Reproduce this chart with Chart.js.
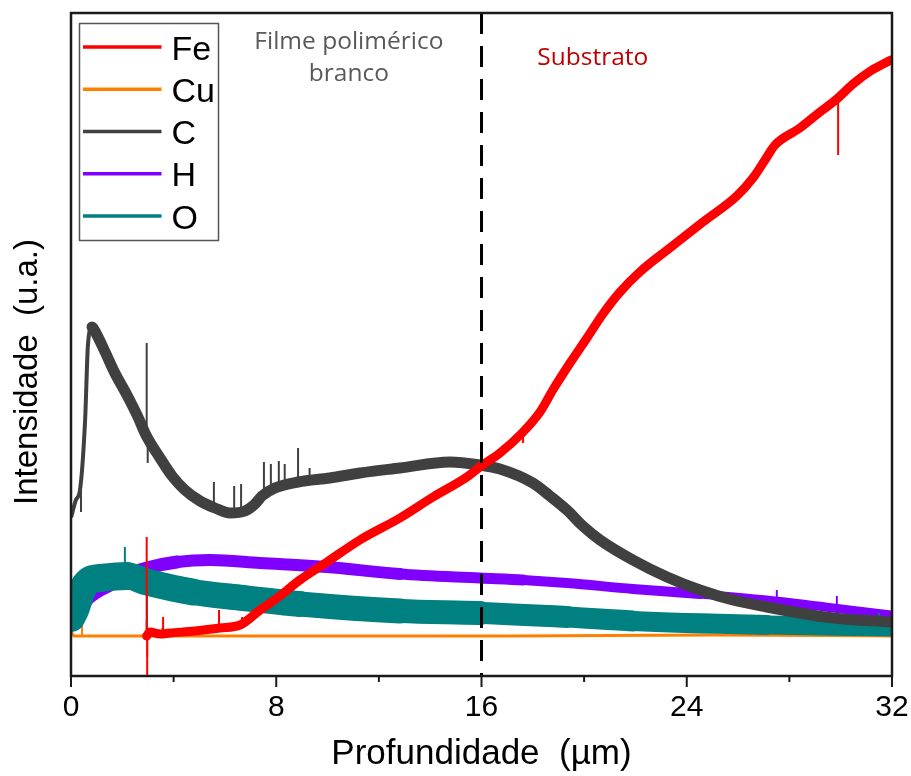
<!DOCTYPE html>
<html>
<head>
<meta charset="utf-8">
<script src="https://cdn.jsdelivr.net/npm/chart.js@4.4.1/dist/chart.umd.min.js"></script>
<style>
  html, body { margin: 0; padding: 0; background: #fff; }
  #wrap { width: 911px; height: 776px; }
</style>
</head>
<body>
<div id="wrap"><canvas id="depthChart" width="911" height="776"></canvas></div>
<script>
// perfil de profundidade, intensidade em u.a.
const feDepth = [2.95, 3.08, 3.47, 3.86, 4.83, 5.81, 6.59, 7.37, 8.14, 8.92, 9.98, 11.26, 12.82, 14.11, 15.43, 15.98, 16.72, 17.62, 18.28, 18.78, 19.45, 20.11, 20.73, 21.4, 22.17, 23.34, 24.63, 25.95, 26.58, 27.05, 27.44, 28.41, 29.19, 29.85, 30.48, 31.22, 31.96];
const feInt   = [40, 44, 42, 43, 45, 48, 51, 66, 80, 96, 114, 136, 158, 179, 199, 210, 223, 244, 264, 286, 313, 338, 362, 384, 404, 428, 454, 480, 498, 516, 531, 548, 564, 577, 592, 606, 616];

const cuDepth = [0, 0.12, 0.35, 3, 9, 17, 25, 32];
const cuInt   = [45, 40, 40, 40, 40, 40, 41, 40];

const cDepth = [0.02, 0.19, 0.35, 0.55, 0.66, 0.82, 0.97, 1.33, 1.71, 2.18, 2.61, 2.92, 3.47, 3.94, 4.44, 5.03, 5.61, 6.2, 6.78, 7.17, 7.44, 7.95, 8.85, 10.09, 11.26, 12.82, 14.77, 15.94, 16.72, 18.0, 18.67, 19.33, 19.95, 20.62, 21.9, 23.23, 24.51, 25.8, 27.12, 28.41, 29.7, 31.96];
const cInt   = [160, 176, 186, 256, 331, 349, 343, 324, 303, 281, 259, 241, 218, 200, 186, 175, 168, 163, 165, 172, 180, 188, 194, 198, 203, 208, 214, 211, 207, 193, 180, 166, 150, 136, 116, 99, 86, 76, 69, 63, 58, 54];

const hDepth = [0, 0.27, 0.62, 1.01, 1.52, 2.18, 2.96, 4.13, 5.42, 7.37, 9.98, 12.82, 15.94, 17.62, 19.33, 21.9, 24.51, 27.12, 29.7, 31.96];
const hInt   = [54, 61, 76, 84, 91, 101, 108, 114, 116, 113, 109, 102, 98, 96, 93, 87, 82, 76, 68, 61];

const oDepth = [0, 0.16, 0.43, 0.74, 1.13, 2.18, 2.96, 4.75, 6.7, 8.92, 12.82, 15.94, 19.33, 21.9, 27.12, 31.96];
const oInt   = [58, 66, 86, 96, 98, 100, 94, 84, 78, 72, 65, 63, 59, 55, 51, 49];

// picos estreitos: profundidade, valor de base, valor do pico
const feSpikeDepth = [2.95, 2.97, 3.59, 5.77, 6.67, 17.62, 29.9];
const feSpikeBase  = [40, 40, 43, 48, 52, 244, 577];
const feSpikeTop   = [139, 0, 59, 66, 59, 233, 521];

const cuSpikeDepth = [0.43, 2.95, 2.97, 3.55];
const cuSpikeBase  = [40, 40, 40, 40];
const cuSpikeTop   = [51, 56, 19, 48];

const cSpikeDepth = [0.39, 2.95, 2.99, 5.57, 6.36, 6.63, 7.52, 7.79, 8.1, 8.33, 8.85, 9.3];
const cSpikeBase  = [186, 243, 243, 168, 164, 165, 182, 185, 188, 190, 194, 196];
const cSpikeTop   = [164, 333, 213, 194, 190, 192, 214, 212, 215, 212, 228, 208];

const hSpikeDepth = [27.51, 29.85];
const hSpikeBase  = [76, 68];
const hSpikeTop   = [86, 80];

const oSpikeDepth = [2.1, 2.96, 31.5];
const oSpikeBase  = [100, 94, 49];
const oSpikeTop   = [129, 46, 63];

const xTicks = [0, 8, 16, 24, 32];
const interfaceDepth = 16;
const yMax = 663;

const colors = { Fe: '#ff0000', Cu: '#ff8000', C: '#404040', H: '#8000ff', O: '#008080' };
const legendOrder = ['Fe', 'Cu', 'C', 'H', 'O'];

function pts(xs, ys) {
    return xs.map((v, i) => ({ x: v, y: ys[i] }));
}

function spikePts(xs, base, top) {
    const out = [];
    xs.forEach((v, i) => {
        out.push({ x: v, y: base[i] }, { x: v, y: top[i] }, { x: v, y: null });
    });
    return out;
}

function mainSet(label, data, order, width) {
    return {
        label: label,
        data: data,
        borderColor: colors[label],
        borderWidth: typeof width === 'number' ? width : 8,
        segment: typeof width === 'function' ? { borderWidth: width } : undefined,
        borderCapStyle: 'round',
        borderJoinStyle: 'round',
        cubicInterpolationMode: 'monotone',
        pointRadius: 0,
        order: order
    };
}

function spikeSet(label, data, order) {
    return {
        label: '',
        data: data,
        borderColor: colors[label],
        borderWidth: 2,
        pointRadius: 0,
        order: order
    };
}

const decor = {
    id: 'decor',
    afterDatasetsDraw(chart) {
        const { ctx, chartArea: a, scales: { x } } = chart;
        ctx.save();

        // moldura
        ctx.strokeStyle = '#1a1a1a';
        ctx.lineWidth = 2.5;
        ctx.strokeRect(a.left, a.top, a.right - a.left, a.bottom - a.top);

        // marcas do eixo x
        ctx.lineWidth = 2;
        x.ticks.forEach(t => {
            const px = x.getPixelForValue(t.value);
            const len = t.value % 8 === 0 ? 11 : 6;
            ctx.beginPath();
            ctx.moveTo(px, a.bottom);
            ctx.lineTo(px, a.bottom + len);
            ctx.stroke();
        });

        // titulos
        ctx.fillStyle = '#000';
        ctx.font = "35px 'Liberation Sans', Arial, sans-serif";
        ctx.textAlign = 'center';
        ctx.textBaseline = 'alphabetic';
        ctx.fillText('Profundidade  (µm)', (a.left + a.right) / 2, 764);

        ctx.save();
        ctx.translate(37, 372);
        ctx.rotate(-Math.PI / 2);
        ctx.font = "33px 'Liberation Sans', Arial, sans-serif";
        ctx.fillText('Intensidade  (u.a.)', 0, 0);
        ctx.restore();

        // anotacoes
        ctx.font = "24.5px 'Open Sans', sans-serif";
        ctx.fillStyle = '#595959';
        const filmX = x.getPixelForValue(10.83);
        ctx.fillText('Filme polimérico', filmX, a.top + 36);
        ctx.fillText('branco', filmX, a.top + 68);
        ctx.fillStyle = '#c00000';
        ctx.fillText('Substrato', x.getPixelForValue(20.34), a.top + 52);

        // legenda
        const bx = a.left + 8.5, by = a.top + 10.5, bw = 139, bh = 217;
        ctx.fillStyle = '#fff';
        ctx.fillRect(bx, by, bw, bh);
        ctx.strokeStyle = '#555';
        ctx.lineWidth = 1.5;
        ctx.strokeRect(bx, by, bw, bh);
        ctx.font = "34px 'Liberation Sans', Arial, sans-serif";
        ctx.textAlign = 'left';
        legendOrder.forEach((name, i) => {
            const ly = a.top + 34 + i * 42.25;
            ctx.strokeStyle = colors[name];
            ctx.lineWidth = 3.5;
            ctx.beginPath();
            ctx.moveTo(bx + 3.5, ly);
            ctx.lineTo(bx + 82, ly);
            ctx.stroke();
            ctx.fillStyle = '#000';
            ctx.fillText(name, bx + 92, ly + 12.5);
        });

        ctx.restore();
    }
};

const ctx = document.getElementById('depthChart');
new Chart(ctx.getContext('2d'), {
    type: 'line',
    data: {
        datasets: [
            {
                label: '',
                data: [{ x: interfaceDepth, y: yMax }, { x: interfaceDepth, y: 0 }],
                borderColor: '#000',
                borderWidth: 3,
                borderDash: [21, 12],
                pointRadius: 0,
                order: 0
            },
            spikeSet('Fe', spikePts(feSpikeDepth, feSpikeBase, feSpikeTop), 1),
            mainSet('Fe', pts(feDepth, feInt), 2, 9),
            spikeSet('C', spikePts(cSpikeDepth, cSpikeBase, cSpikeTop), 3),
            mainSet('C', pts(cDepth, cInt), 3, c => c.p0.parsed.x < 0.7 ? 4 : 11),
            spikeSet('O', spikePts(oSpikeDepth, oSpikeBase, oSpikeTop), 4),
            mainSet('O', pts(oDepth, oInt), 4, c => Math.round(28 - 0.35 * c.p0.parsed.x)),
            spikeSet('H', spikePts(hSpikeDepth, hSpikeBase, hSpikeTop), 5),
            mainSet('H', pts(hDepth, hInt), 5, c => Math.round(13 - 0.15 * c.p0.parsed.x)),
            spikeSet('Cu', spikePts(cuSpikeDepth, cuSpikeBase, cuSpikeTop), 6),
            mainSet('Cu', pts(cuDepth, cuInt), 6, 3)
        ]
    },
    options: {
        responsive: false,
        animation: false,
        devicePixelRatio: 1,
        layout: {
            padding: { left: 71, right: 19, top: 13, bottom: 0 }
        },
        plugins: {
            legend: { display: false },
            tooltip: { enabled: false }
        },
        scales: {
            x: {
                type: 'linear',
                min: 0,
                max: 32,
                afterFit: s => {
                    s.height = 100;
                    s.paddingLeft = 0;
                    s.paddingRight = 0;
                },
                grid: { display: false, drawTicks: false },
                border: { display: false },
                ticks: {
                    stepSize: 4,
                    autoSkip: false,
                    maxRotation: 0,
                    padding: 14,
                    color: '#000',
                    font: { family: "'Liberation Sans Narrow', 'Liberation Sans', Arial, sans-serif", size: 30 },
                    callback: v => xTicks.includes(v) ? v : ''
                }
            },
            y: {
                display: false,
                min: 0,
                max: yMax
            }
        }
    },
    plugins: [decor]
});
</script>
</body>
</html>
